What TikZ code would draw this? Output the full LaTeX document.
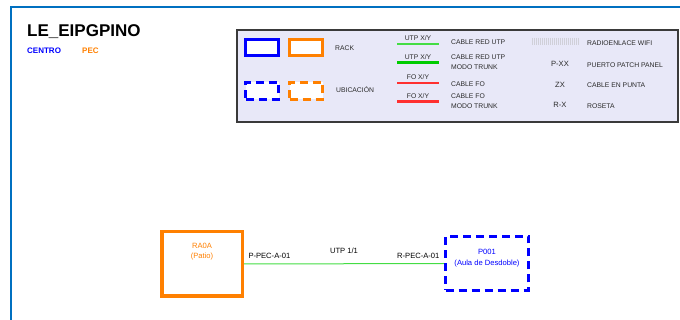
\documentclass[tikz,border=0pt]{standalone}
\usepackage{fontspec,xcolor,tikz}
\setmainfont{Liberation Sans}
\definecolor{frameblue}{HTML}{0070C0}
\definecolor{centro}{HTML}{0000FF}
\definecolor{pec}{HTML}{FF8000}
\definecolor{legendbg}{HTML}{E8E8F8}
\definecolor{legendrule}{HTML}{3A3A3A}
\definecolor{legendtext}{HTML}{2A2A2A}
\definecolor{utp}{HTML}{44DD44}
\definecolor{utptrunk}{HTML}{00CC00}
\definecolor{fo}{HTML}{FF3030}
\definecolor{hatch}{HTML}{D0D0D8}
\newcommand{\htitle}{\fontsize{17}{20}\selectfont\bfseries}
\newcommand{\hsub}{\fontsize{8}{10}\selectfont\bfseries}
\newcommand{\lgd}{\fontsize{6.8}{10}\selectfont}
\newcommand{\lbl}{\fontsize{7.6}{10.5}\selectfont}

\begin{document}
\begin{tikzpicture}[x=1pt,y=-1pt,font=\lgd,
  rackbox/.style={draw=#1,line width=3.2pt,fill=white,inner sep=0},
  ubicbox/.style={draw=#1,line width=3.2pt,fill=white,inner sep=0,dash pattern=on 8pt off 5pt},
  lgdtext/.style={anchor=west,inner sep=0,text=legendtext,align=left}]
\useasboundingbox (0,0) rectangle (680,320);
\draw[frameblue,line width=2pt] (680,7) -- (11,7) -- (11,320);
\node[anchor=west,inner sep=0,font=\htitle] (title) at (27,32) {LE\_EIPGPINO};
\node[anchor=west,inner sep=0,font=\hsub,text=centro] (centro) at (27,51) {CENTRO};
\node[anchor=west,inner sep=0,font=\hsub,text=pec] (pec) at (82,51) {PEC};
% legend
\draw[legendrule,fill=legendbg,line width=1.6pt] (237,30) rectangle (678,122);
\node[rackbox=centro,minimum width=33,minimum height=16] (lgrackc) at (262,47.5) {};
\node[rackbox=pec,minimum width=33,minimum height=16] (lgrackp) at (306,47.5) {};
\node[lgdtext] (lgrack) at (335,48) {RACK};
\node[ubicbox=centro,minimum width=33,minimum height=17] (lgubicc) at (262,91) {};
\node[ubicbox=pec,minimum width=33,minimum height=17] (lgubicp) at (306,91) {};
\node[lgdtext] (lgubic) at (336,90) {UBICACIÓN};
\draw[utp,line width=1.3pt] (397,44) -- (439,44);
\draw[utptrunk,line width=3pt] (397,63) -- (439,63);
\draw[fo,line width=1.2pt] (397,83) -- (439,83);
\draw[fo,line width=3pt] (397,102) -- (439,102);
\node[inner sep=0,text=legendtext] (lgutp) at (418,38) {UTP X/Y};
\node[inner sep=0,text=legendtext] (lgutpt) at (418,57) {UTP X/Y};
\node[inner sep=0,text=legendtext] (lgfo) at (418,77) {FO X/Y};
\node[inner sep=0,text=legendtext] (lgfot) at (418,96) {FO X/Y};
\node[lgdtext] (lgcutp) at (451,42) {CABLE RED UTP};
\node[lgdtext] (lgcutpt) at (451,62) {CABLE RED UTP\\MODO TRUNK};
\node[lgdtext] (lgcfo) at (451,84) {CABLE FO};
\node[lgdtext] (lgcfot) at (451,101) {CABLE FO\\MODO TRUNK};
\foreach \hx in {532,534,...,578} \draw[hatch,line width=0.6pt] (\hx,38) -- (\hx,45);
\node[lgdtext] (lgwifi) at (587,43) {RADIOENLACE WIFI};
\node[inner sep=0,text=legendtext,font=\lbl] (lgpxx) at (560,64) {P-XX};
\node[lgdtext] (lgpatch) at (587,65) {PUERTO PATCH PANEL};
\node[inner sep=0,text=legendtext,font=\lbl] (lgzx) at (560,85) {ZX};
\node[lgdtext] (lgpunta) at (587,85) {CABLE EN PUNTA};
\node[inner sep=0,text=legendtext,font=\lbl] (lgrx) at (560,105) {R-X};
\node[lgdtext] (lgroseta) at (587,106) {ROSETA};
% diagram
\node[rackbox=pec,line width=3.5pt,minimum width=80.5,minimum height=64.5] (rack) at (202,264) {};
\node[inner sep=0,font=\lbl,text=pec,align=center] (rackname) at (202,251.5) {RA0A\\(Patio)};
\node[ubicbox=centro,minimum width=83,minimum height=54] (aula) at (487,263.5) {};
\node[inner sep=0,font=\lbl,text=centro,align=center] (aulaname) at (487,258) {P001\\(Aula de Desdoble)};
\draw[utp,line width=1pt] (rack.east) --
  node[pos=0,anchor=base west,inner sep=0,font=\lbl,text=black,xshift=4pt,yshift=5pt] (pport) {P-PEC-A-01}
  node[midway,anchor=base,inner sep=0,font=\lbl,text=black,yshift=10pt] (cable) {UTP 1/1}
  node[pos=1,anchor=base east,inner sep=0,font=\lbl,text=black,xshift=-4pt,yshift=5pt] (rport) {R-PEC-A-01}
  (aula.west);
\end{tikzpicture}
\end{document}
